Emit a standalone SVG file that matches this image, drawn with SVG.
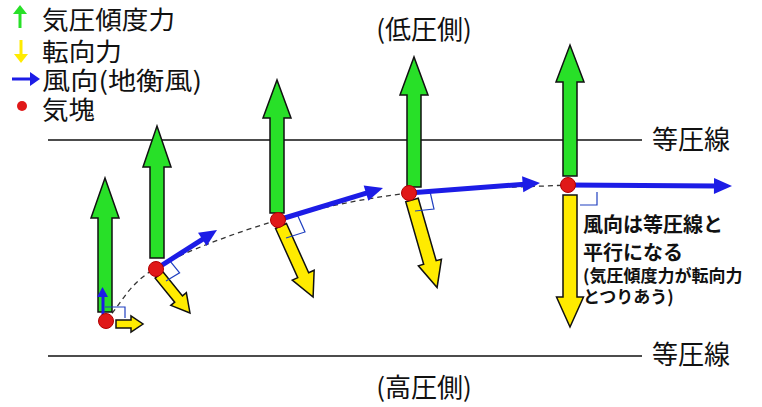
<svg xmlns="http://www.w3.org/2000/svg" width="762" height="407" viewBox="0 0 762 407">
<style>
.t{font-family:"Noto Sans CJK JP","Noto Sans",sans-serif;fill:#111}
.lg{font-size:25px}
.g{fill:#28e028;stroke:#111;stroke-width:1.5;stroke-linejoin:miter}
.y{fill:#ffeb00;stroke:#111;stroke-width:1.5}
.b{fill:#1c1ce6}
.dot{fill:#e01818;stroke:#b00000;stroke-width:1}
.ra{fill:none;stroke:#2040c0;stroke-width:1.2}
.iso{stroke:#111;stroke-width:1.5}
</style>
<rect width="762" height="407" fill="#fff"/>
<g id="legend">
<line x1="20" y1="28" x2="20" y2="12" stroke="#28e028" stroke-width="3"/>
<polygon points="13,14 20,5 27,14" fill="#28e028"/>
<text class="t lg" x="42" y="29" textLength="133" lengthAdjust="spacingAndGlyphs">気圧傾度力</text>
<line x1="21" y1="40" x2="21" y2="56" stroke="#ffeb00" stroke-width="3"/>
<polygon points="14,54 21,63 28,54" fill="#ffeb00"/>
<text class="t lg" x="42" y="61" textLength="80" lengthAdjust="spacingAndGlyphs">転向力</text>
<line x1="12" y1="79" x2="32" y2="79" stroke="#1c1ce6" stroke-width="3"/>
<polygon points="30,72 40,79 30,86" fill="#1c1ce6"/>
<text class="t lg" x="42" y="90" textLength="160" lengthAdjust="spacingAndGlyphs">風向(地衡風)</text>
<circle cx="22" cy="106" r="5" fill="#e01818"/>
<text class="t lg" x="42" y="119" textLength="53" lengthAdjust="spacingAndGlyphs">気塊</text>
</g>
<g id="isobars">
<line class="iso" x1="48" y1="140" x2="642" y2="140"/>
<text class="t" x="652" y="149" font-size="26">等圧線</text>
<line class="iso" x1="48" y1="356" x2="642" y2="356"/>
<text class="t" x="652" y="364" font-size="26">等圧線</text>
</g>
<g id="sides">
<text class="t" x="424" y="39" font-size="26" text-anchor="middle">(低圧側)</text>
<text class="t" x="424" y="397" font-size="26" text-anchor="middle">(高圧側)</text>
</g>
<g id="connectors">
<path d="M106,320 C122.7,302.7 127.3,284.7 156,268 C184.7,251.3 235.8,232.5 278,220 C320.2,207.5 360.7,198.8 409,193 C457.3,187.2 515,187.7 568,185 L580,185" fill="none" stroke="#333" stroke-width="1.3" stroke-dasharray="5,4"/>
</g>
<g id="parcel1">
<polygon class="g" points="98,312 112,312 112,218 119,218 105,178 91,218 98,218"/>
<g transform="translate(116,324)"><polygon class="y" points="0,-4 15,-4 15,-8 27,0 15,8 15,4 0,4"/></g>
<polyline class="ra" points="105,307 125,307 125,318"/>
<line x1="103" y1="318" x2="103" y2="296" stroke="#1c1ce6" stroke-width="3"/>
<polygon points="97,297 102.5,287 108,297" fill="#1c1ce6"/>
<circle class="dot" cx="106" cy="321" r="7.5"/>
</g>
<g id="parcel2">
<polygon class="g" points="150,258 164,258 164,167 171,167 157,126 143,167 150,167"/>
<g transform="translate(159,275) rotate(50.8)"><polygon class="y" points="0,-5 31,-5 31,-10 49,0 31,10 31,5 0,5"/></g>
<polyline class="ra" points="169.5,260.4 179.6,272.8 166,281"/>
<g transform="translate(156,269) rotate(-32.6)"><rect class="b" x="0" y="-2.5" width="57" height="5"/><polygon class="b" points="55,-8 72.4,0 55,8"/></g>
<circle class="dot" cx="156" cy="269" r="7.5"/>
</g>
<g id="parcel3">
<polygon class="g" points="270,213 284,213 284,118 291,118 277,80 263,118 270,118"/>
<g transform="translate(281,226) rotate(65.7)"><polygon class="y" points="0,-6 54,-6 54,-12 78,0 54,12 54,6 0,6"/></g>
<polyline class="ra" points="297,214 305,232 286,238"/>
<g transform="translate(278,220) rotate(-16.95)"><rect class="b" x="0" y="-2.5" width="94" height="5"/><polygon class="b" points="92,-8 109.8,0 92,8"/></g>
<circle class="dot" cx="278" cy="220" r="7.5"/>
</g>
<g id="parcel4">
<polygon class="g" points="407,187 421,187 421,95 428,95 414,57 400,95 407,95"/>
<g transform="translate(412,200) rotate(74)"><polygon class="y" points="0,-6.5 65,-6.5 65,-12 91,0 65,12 65,6.5 0,6.5"/></g>
<polyline class="ra" points="430,191.5 434,209 415,211"/>
<g transform="translate(409,193) rotate(-4.37)"><rect class="b" x="0" y="-2.5" width="116" height="5"/><polygon class="b" points="114,-8 131.4,0 114,8"/></g>
<circle class="dot" cx="409" cy="193" r="7.5"/>
</g>
<g id="parcel5">
<polygon class="g" points="563,176 577,176 577,82 584,82 570,45 556,82 563,82"/>
<g transform="translate(570,195) rotate(90)"><polygon class="y" points="0,-7 102,-7 102,-13.5 132,0 102,13.5 102,7 0,7"/></g>
<polyline class="ra" points="580,205 597,205 597,192"/>
<g transform="translate(568,185) rotate(0.35)"><rect class="b" x="0" y="-2.5" width="148" height="5"/><polygon class="b" points="146,-8 164,0 146,8"/></g>
<circle class="dot" cx="568" cy="185" r="7.5"/>
<text class="t" x="583" y="232" font-size="20" font-weight="bold">風向は等圧線と</text>
<text class="t" x="583" y="260" font-size="20" font-weight="bold">平行になる</text>
<text class="t" x="583" y="282" font-size="17" font-weight="bold">(気圧傾度力が転向力</text>
<text class="t" x="583" y="303" font-size="17" font-weight="bold">とつりあう)</text>
</g>
</svg>
